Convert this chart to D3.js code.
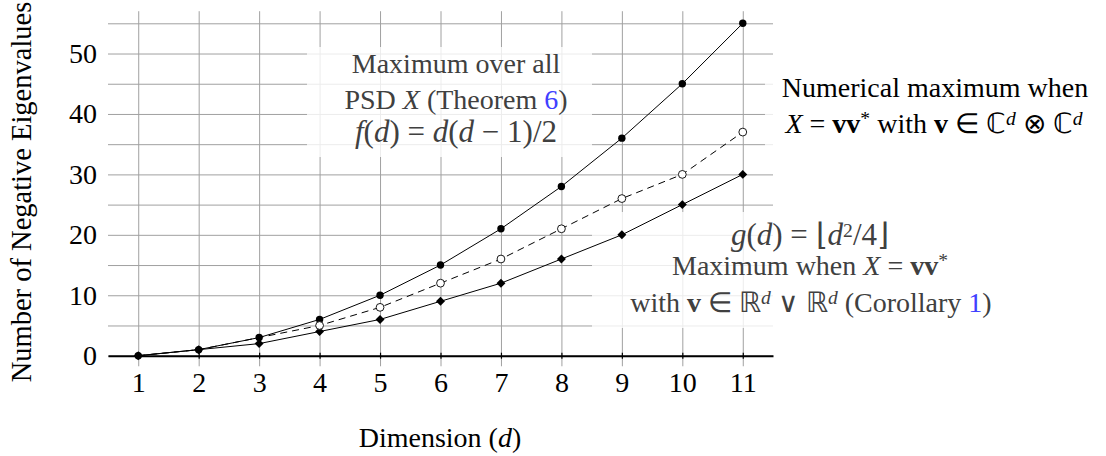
<!DOCTYPE html>
<html>
<head>
<meta charset="utf-8">
<script src="https://cdn.jsdelivr.net/npm/d3@7"></script>
</head>
<body style="margin:0; background:#fff">
<script>
// Negative eigenvalue counts per dimension d
var dims = [1, 2, 3, 4, 5, 6, 7, 8, 9, 10, 11];
var psdMax = [0, 1, 3, 6, 10, 15, 21, 28, 36, 45, 55];        // f(d), filled circles
var numericalMax = [0, 1, 3, 5, 8, 12, 16, 21, 26, 30, 37];   // open circles, dashed
var realMax = [0, 1, 2, 4, 6, 9, 12, 16, 20, 25, 30];         // g(d), diamonds
var yTicks = [0, 10, 20, 30, 40, 50];
var yGrid = [0, 5, 10, 15, 20, 25, 30, 35, 40, 45, 50, 55];

var W = 1106, H = 456;
var fs = 28;
var font = "Liberation Serif, Times New Roman, Tinos, serif";
var gridColor = "#a0a0a0";
var grayText = "#404040";
var linkBlue = "#4040ff";

var svg = d3.select("body").append("svg").attr("width", W).attr("height", H)
  .attr("font-family", font);

var x = d3.scaleLinear().domain([0.5, 11.5]).range([108, 773]);
var y = d3.scaleLinear().domain([0, 55]).range([355.7, 23.3]);
var yLo = -1.75, yHi = 57;

// grid lines
var gx = svg.append("g")
  .attr("transform", "translate(0," + y(yLo) + ")")
  .call(d3.axisBottom(x).tickValues(dims).tickSize(-(y(yLo) - y(yHi))).tickFormat(""));
gx.select(".domain").remove();
gx.selectAll("line").attr("stroke", gridColor).attr("stroke-width", 1);

var gy = svg.append("g")
  .attr("transform", "translate(" + x(0.5) + ",0)")
  .call(d3.axisLeft(y).tickValues(yGrid).tickSize(-(x(11.5) - x(0.5))).tickFormat(""));
gy.select(".domain").remove();
gy.selectAll("line").attr("stroke", gridColor).attr("stroke-width", 1);

// annotation backgrounds (semi transparent white like the tikz nodes)
var boxes = [
  [307, 47, 285, 110],
  [765, 62, 341, 86],
  [592, 212, 440, 116]
];
svg.selectAll("rect.bg").data(boxes).enter().append("rect")
  .attr("class", "bg")
  .attr("x", function(d){ return d[0]; })
  .attr("y", function(d){ return d[1]; })
  .attr("width", function(d){ return d[2]; })
  .attr("height", function(d){ return d[3]; })
  .attr("fill", "#fff")
  .attr("fill-opacity", 0.8);

// x axis at y = 0
var xAxis = svg.append("g")
  .attr("transform", "translate(0," + y(0) + ")")
  .call(d3.axisBottom(x).tickValues(dims).tickSizeInner(3).tickSizeOuter(0).tickPadding(13));
xAxis.attr("font-family", font).attr("font-size", fs);
xAxis.select(".domain").attr("stroke", "#000").attr("stroke-width", 2);
xAxis.selectAll(".tick line").attr("y1", -3).attr("stroke", "#000").attr("stroke-width", 1.2);
xAxis.selectAll("text").attr("fill", "#000").attr("font-family", font);

// y tick labels
var yAxis = svg.append("g")
  .attr("transform", "translate(" + x(0.5) + ",0)")
  .call(d3.axisLeft(y).tickValues(yTicks).tickSize(0).tickPadding(11));
yAxis.attr("font-family", font).attr("font-size", fs);
yAxis.select(".domain").remove();
yAxis.selectAll("text").attr("fill", "#000").attr("font-family", font);

// axis labels
var xl = svg.append("text")
  .attr("x", 440).attr("y", 447)
  .attr("text-anchor", "middle")
  .attr("font-family", font)
  .attr("font-size", fs);
xl.append("tspan").text("Dimension (");
xl.append("tspan").attr("font-style", "italic").text("d");
xl.append("tspan").text(")");

svg.append("text")
  .attr("transform", "translate(31,192) rotate(-90)")
  .attr("text-anchor", "middle")
  .attr("font-family", font)
  .attr("font-size", 28.5)
  .text("Number of Negative Eigenvalues");

// series
var line = d3.line()
  .x(function(d, i){ return x(dims[i]); })
  .y(function(d){ return y(d); });

svg.append("path").datum(psdMax).attr("d", line)
  .attr("fill", "none").attr("stroke", "#000").attr("stroke-width", 1);
svg.append("path").datum(numericalMax).attr("d", line)
  .attr("fill", "none").attr("stroke", "#000").attr("stroke-width", 1)
  .attr("stroke-dasharray", "7,5");
svg.append("path").datum(realMax).attr("d", line)
  .attr("fill", "none").attr("stroke", "#000").attr("stroke-width", 1);

svg.selectAll("circle.f").data(psdMax).enter().append("circle")
  .attr("class", "f")
  .attr("cx", function(d, i){ return x(dims[i]); })
  .attr("cy", function(d){ return y(d); })
  .attr("r", 3.7).attr("fill", "#000");

var diamond = d3.symbol().type(d3.symbolSquare).size(40);
svg.selectAll("path.g").data(realMax).enter().append("path")
  .attr("class", "g")
  .attr("d", diamond)
  .attr("transform", function(d, i){ return "translate(" + x(dims[i]) + "," + y(d) + ") rotate(45)"; })
  .attr("fill", "#000");

// open circles only where they are not hidden under the other markers (d >= 4)
svg.selectAll("circle.n").data(numericalMax.slice(3)).enter().append("circle")
  .attr("class", "n")
  .attr("cx", function(d, i){ return x(dims[i + 3]); })
  .attr("cy", function(d){ return y(d); })
  .attr("r", 3.9).attr("fill", "#fff").attr("stroke", "#000").attr("stroke-width", 0.9);

// helper to write a line of mixed tspans
function textLine(cx, by, parts, color) {
  var t = svg.append("text")
    .attr("x", cx).attr("y", by)
    .attr("text-anchor", "middle")
    .attr("font-family", font)
    .attr("font-size", fs)
    .attr("fill", color);
  parts.forEach(function(p){
    var s = t.append("tspan").text(p.t);
    if (p.i) s.attr("font-style", "italic");
    if (p.b) s.attr("font-weight", "bold");
    if (p.c) s.attr("fill", p.c);
    if (p.sup) s.attr("baseline-shift", "40%").attr("font-size", fs * 0.7);
  });
  return t;
}

// top-left annotation
textLine(456, 72.7, [{t: "Maximum over all"}], grayText);
textLine(456, 109, [{t: "PSD "}, {t: "X", i: 1}, {t: " (Theorem "}, {t: "6", c: linkBlue}, {t: ")"}], grayText);
textLine(456, 141.7, [{t: "f", i: 1}, {t: "("}, {t: "d", i: 1}, {t: ")  =  "}, {t: "d", i: 1},
  {t: "("}, {t: "d", i: 1}, {t: " \u2212 1)/2"}], grayText).attr("font-size", 31);

// right annotation
textLine(935, 96.7, [{t: "Numerical maximum when"}], "#000");
textLine(934, 133, [{t: "X", i: 1}, {t: " = "}, {t: "vv", b: 1}, {t: "*", sup: 1}, {t: " with "}, {t: "v", b: 1},
  {t: " \u2208 \u2102"}, {t: "d", i: 1, sup: 1}, {t: " \u2297 \u2102"}, {t: "d", i: 1, sup: 1}], "#000");

// bottom-right annotation
textLine(810, 245, [{t: "g", i: 1}, {t: "("}, {t: "d", i: 1}, {t: ")  =  \u230A"}, {t: "d", i: 1},
  {t: "2", sup: 1}, {t: "/4\u230B"}], grayText).attr("font-size", 31);
textLine(810, 275, [{t: "Maximum when "}, {t: "X", i: 1}, {t: " = "}, {t: "vv", b: 1}, {t: "*", sup: 1}], grayText);
textLine(811, 311.7, [{t: "with "}, {t: "v", b: 1}, {t: " \u2208 \u211D"}, {t: "d", i: 1, sup: 1}, {t: " \u2228 \u211D"},
  {t: "d", i: 1, sup: 1}, {t: " (Corollary "}, {t: "1", c: linkBlue}, {t: ")"}], grayText);
</script>
</body>
</html>
